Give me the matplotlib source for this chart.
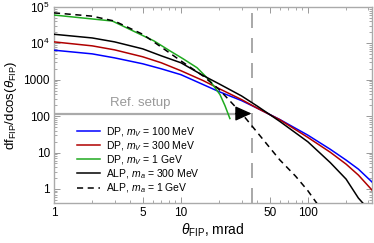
import matplotlib
matplotlib.use("Agg")
import matplotlib.pyplot as plt
from matplotlib.ticker import FixedLocator, FixedFormatter, NullFormatter

plt.rcParams['font.family'] = ['Liberation Sans', 'DejaVu Sans']
plt.rcParams['mathtext.fontset'] = 'custom'
plt.rcParams['mathtext.rm'] = 'Liberation Sans'
plt.rcParams['mathtext.it'] = 'Liberation Sans:italic'

# ---------------- data ----------------
theta = [1, 2, 3, 5, 7, 10, 15, 20, 30, 40, 60, 100, 150, 200, 250, 320]
dp_100 = [6500, 5150, 4000, 2750, 2000, 1380, 735, 470, 268, 165, 81, 30, 12.3, 6.2, 3.5, 1.55]
dp_300 = [11000, 8550, 6640, 4280, 2930, 1770, 945, 570, 286, 165, 80, 26, 10.2, 4.8, 2.4, 0.93]

theta_alp300 = [1, 2, 3, 5, 7, 10, 15, 20, 30, 40, 60, 100, 150, 200, 250, 280]
alp_300 = [17800, 14100, 11000, 7070, 4550, 2930, 1300, 770, 360, 188, 72, 19.7, 5.3, 1.86, 0.56, 0.36]

theta_dp1 = [1, 2.88, 6.13, 8.18, 10.4, 13.4, 16.9, 20.3, 22.2, 24.3]
dp_1g = [60100, 41200, 11700, 6240, 3770, 2140, 945, 392, 196, 86]

theta_alp1 = [1, 2, 3, 5, 7, 10, 15, 20, 30, 40, 60, 80, 100, 115, 125]
alp_1g = [69000, 56000, 41000, 17800, 7900, 3300, 1260, 540, 120, 35.5, 6.3, 2.24, 0.89, 0.45, 0.3]

labels = [r"DP, $m_V$ = 100 MeV", r"DP, $m_V$ = 300 MeV", r"DP, $m_V$ = 1 GeV",
          r"ALP, $m_a$ = 300 MeV", r"ALP, $m_a$ = 1 GeV"]

ref_theta = 36
ref_value = 118

xticks = [1, 5, 10, 50, 100]
xticklabels = ["1", "5", "10", "50", "100"]
yticks = [1, 10, 100, 1000, 1e4, 1e5]
yticklabels = ["1", "10", "100", "1000", r"$10^4$", r"$10^5$"]

# ---------------- figure ----------------
fig = plt.figure(figsize=(3.74, 2.43), dpi=100)
ax = fig.add_axes([54/374, 1-203/243, (372-54)/374, (203-7)/243])
ax.set_xscale('log')
ax.set_yscale('log')
ax.set_xlim(1, 320)
ax.set_ylim(0.41, 1e5)

lw = 1.1
ax.plot(theta, dp_100, color='#0000ff', lw=lw, label=labels[0], zorder=3)
ax.plot(theta, dp_300, color='#b00000', lw=lw, label=labels[1], zorder=3)
ax.plot(theta_dp1, dp_1g, color='#1faa1f', lw=lw, label=labels[2], zorder=3)
ax.plot(theta_alp300, alp_300, color='black', lw=lw, label=labels[3], zorder=3)
ax.plot(theta_alp1, alp_1g, color='black', lw=lw, ls=(0, (4, 3)), label=labels[4], zorder=3)

# reference setup markers
ax.axvline(ref_theta, color='#999999', lw=1.2, ls=(0, (9, 6)), zorder=2)
ax.plot([1, 28], [ref_value, ref_value], color='#aaaaaa', lw=1.6, zorder=2)
ax.annotate('', xy=(ref_theta, ref_value), xytext=(27.0, ref_value),
            arrowprops=dict(arrowstyle='-|>,head_length=1.0,head_width=0.45',
                            color='black', lw=1, shrinkA=0, shrinkB=0), zorder=4)
ax.text(4.8, 235, "Ref. setup", color='#999999', fontsize=9.5, ha='center', va='center')

# ticks
ax.xaxis.set_major_locator(FixedLocator(xticks))
ax.xaxis.set_major_formatter(FixedFormatter(xticklabels))
minors_x = [v * d for d in (1, 10, 100) for v in range(2, 10)]
minors_x = [m for m in minors_x if m not in xticks and m <= 320]
ax.xaxis.set_minor_locator(FixedLocator(minors_x))
ax.xaxis.set_minor_formatter(NullFormatter())
ax.yaxis.set_major_locator(FixedLocator(yticks))
ax.yaxis.set_major_formatter(FixedFormatter(yticklabels))
minors_y = [v * 10.0**d for d in range(-1, 5) for v in range(2, 10)]
ax.yaxis.set_minor_locator(FixedLocator(minors_y))
ax.yaxis.set_minor_formatter(NullFormatter())

ax.tick_params(which='both', direction='in', top=True, right=True, color='#999999', labelsize=8.5, pad=3)
ax.tick_params(which='major', length=4, width=0.7)
ax.tick_params(which='minor', length=2, width=0.6)
for s in ax.spines.values():
    s.set_color('#aaaaaa')
    s.set_linewidth(1.0)

ax.set_xlabel(r"$\theta_\mathrm{FIP}$, mrad", fontsize=10, labelpad=2)
ax.set_ylabel(r"df$_\mathrm{FIP}$/dcos($\theta_\mathrm{FIP}$)", fontsize=9.5, labelpad=3)

leg = ax.legend(loc='lower left', bbox_to_anchor=(23/318, 8/196), fontsize=7.5, frameon=False,
                handlelength=2.2, handletextpad=0.55, labelspacing=0.05, borderpad=0,
                borderaxespad=0)

fig.savefig("out.png", dpi=100)
